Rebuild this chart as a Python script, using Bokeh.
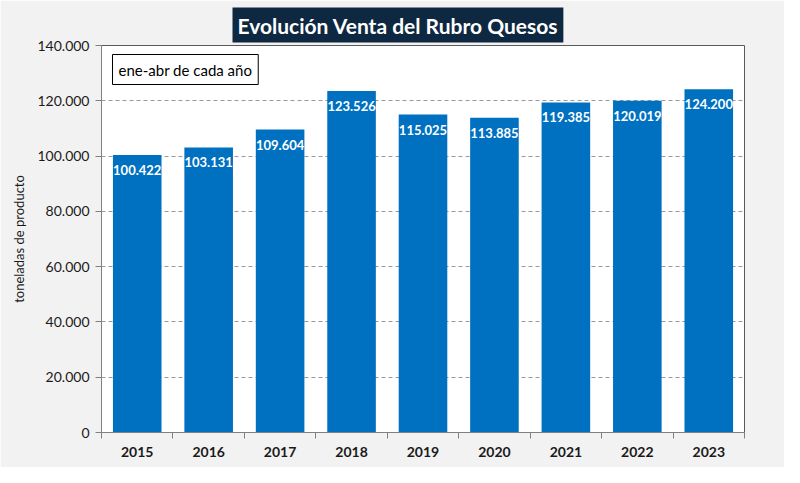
from bokeh.plotting import figure
from bokeh.models import ColumnDataSource, Range1d, FixedTicker, Label
from bokeh.embed import file_html
from bokeh.resources import INLINE
from bokeh.core.properties import value

years = ["2015", "2016", "2017", "2018", "2019", "2020", "2021", "2022", "2023"]
ventas = [100422, 103131, 109604, 123526, 115025, 113885, 119385, 120019, 124200]
ventas_txt = ["100.422", "103.131", "109.604", "123.526", "115.025", "113.885", "119.385", "120.019", "124.200"]
y_ticks = [0, 20000, 40000, 60000, 80000, 100000, 120000, 140000]
y_tick_labels = ["0", "20.000", "40.000", "60.000", "80.000", "100.000", "120.000", "140.000"]

FONT = "Lato"
idx = list(range(len(years)))
src = ColumnDataSource(dict(x=idx, y=ventas, txt=ventas_txt))

p = figure(width=784, height=467, output_backend="svg", toolbar_location=None,
           x_range=Range1d(-0.5, len(years) - 0.5), y_range=Range1d(0, 140000),
           min_border_left=101, min_border_right=40, min_border_top=45, min_border_bottom=35,
           title="Evolución Venta del Rubro Quesos")
p.background_fill_color = "white"
p.border_fill_color = "#F2F2F2"
p.outline_line_color = "#595959"
p.outline_line_width = 1

p.title.align = "left"
p.title.offset = 131
p.title.text_color = "white"
p.title.text_font = FONT
p.title.text_font_style = "bold"
p.title.text_font_size = "21px"
p.title.background_fill_color = "#0E2841"
p.title.padding = 5
p.title.standoff = 6

p.vbar(x="x", top="y", width=0.68, source=src, fill_color="#0070C0", line_color=None)
p.text(x="x", y="y", text="txt", source=src, text_align="center", text_baseline="top",
       y_offset=10, text_color="white", text_font=value(FONT), text_font_style="bold",
       text_font_size="13px")

# axes
p.xaxis.ticker = FixedTicker(ticks=idx, minor_ticks=[i - 0.5 for i in range(len(years) + 1)])
p.xaxis.major_label_overrides = {i: y for i, y in enumerate(years)}
p.xaxis.major_tick_line_color = None
p.xaxis.minor_tick_line_color = "#808080"
p.xaxis.minor_tick_out = 6
p.xaxis.minor_tick_in = 0
p.xaxis.axis_line_color = "#808080"
p.xaxis.major_label_text_font = FONT
p.xaxis.major_label_text_font_size = "14px"
p.xaxis.major_label_text_font_style = "bold"
p.xaxis.major_label_text_color = "#1a1a1a"
p.xaxis.major_label_standoff = 8

p.yaxis.ticker = FixedTicker(ticks=y_ticks)
p.yaxis.major_label_overrides = {t: l for t, l in zip(y_ticks, y_tick_labels)}
p.yaxis.minor_tick_line_color = None
p.yaxis.major_tick_line_color = "#808080"
p.yaxis.major_tick_out = 6
p.yaxis.major_tick_in = 0
p.yaxis.axis_line_color = "#808080"
p.yaxis.major_label_text_font = FONT
p.yaxis.major_label_text_font_size = "14px"
p.yaxis.major_label_text_font_style = "normal"
p.yaxis.major_label_text_color = "#1a1a1a"
p.yaxis.major_label_standoff = 6
p.yaxis.axis_label = "toneladas de producto"
p.yaxis.axis_label_text_font = FONT
p.yaxis.axis_label_text_font_size = "13px"
p.yaxis.axis_label_text_font_style = "normal"
p.yaxis.axis_label_text_color = "#1a1a1a"
p.yaxis.axis_label_standoff = 7

p.xgrid.grid_line_color = None
p.ygrid.ticker = FixedTicker(ticks=y_ticks[1:-1])
p.ygrid.grid_line_color = "#999999"
p.ygrid.grid_line_dash = "4 3"

# note box with shadow
note_txt = "ene-abr de cada año"
shadow = Label(x=11, y=363, x_units="screen", y_units="screen", text=note_txt, x_offset=3, y_offset=-3,
               text_align="left", text_baseline="middle", text_alpha=0, text_font=FONT,
               text_font_size="15px", background_fill_color="#9a9a9a", padding=6)
note = Label(x=11, y=363, x_units="screen", y_units="screen", text=note_txt,
             text_align="left", text_baseline="middle", text_color="black", text_font=FONT,
             text_font_size="15px", background_fill_color="white", border_line_color="black",
             border_line_width=1, padding=6)
p.add_layout(shadow)
p.add_layout(note)

open("out.html", "w").write(file_html(p, INLINE))
